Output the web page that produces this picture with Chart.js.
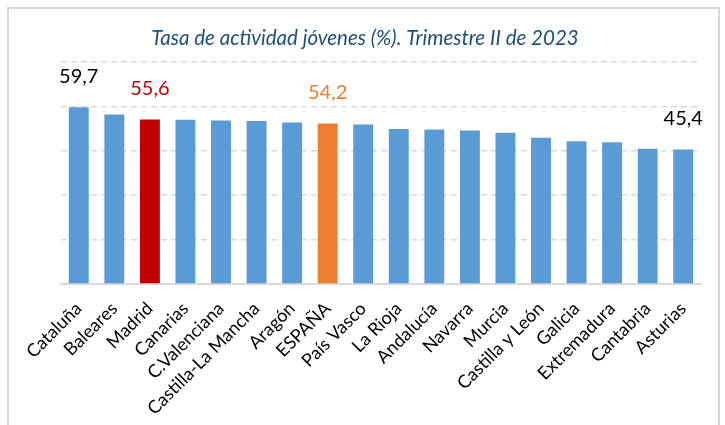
<!DOCTYPE html>
<html>
<head>
<meta charset="utf-8">
<script src="https://cdn.jsdelivr.net/npm/chart.js@4"></script>
<style>
  body { margin: 0; background: #fff; }
  #wrap { width: 725px; height: 425px; }
</style>
</head>
<body>
<div id="wrap"><canvas id="chart"></canvas></div>
<script>
const regions = ['Cataluña', 'Baleares', 'Madrid', 'Canarias', 'C.Valenciana', 'Castilla-La Mancha',
  'Aragón', 'ESPAÑA', 'País Vasco', 'La Rioja', 'Andalucía', 'Navarra', 'Murcia',
  'Castilla y León', 'Galicia', 'Extremadura', 'Cantabria', 'Asturias']
const rates = [59.7, 57.3, 55.6, 55.5, 55.2, 55.1, 54.6, 54.2, 53.9, 52.4, 52.2, 51.9, 51.1,
  49.4, 48.2, 47.9, 45.7, 45.4]
// which bars get a value on top, and in what colour
const shownLabels = { 0: '#000000', 2: '#c00000', 7: '#ed7d31', 17: '#000000' }
const chartTitle = 'Tasa de actividad jóvenes (%). Trimestre II de 2023'

const barColors = regions.map(r =>
  r === 'Madrid' ? '#c00000' : r === 'ESPAÑA' ? '#ed7d31' : '#5b9bd5'
)

// outer frame and the title, centred on the whole picture
const frame = {
  id: 'frame',
  beforeDraw: chart => {
    const ctx = chart.ctx
    ctx.save()
    ctx.strokeStyle = '#d9d9d9'
    ctx.lineWidth = 2
    ctx.strokeRect(8, 8, 711, 430)
    ctx.fillStyle = '#1f4e79'
    ctx.font = 'italic 20.5px Lato'
    ctx.textAlign = 'center'
    ctx.textBaseline = 'middle'
    ctx.fillText(chartTitle, 365, 38)
    ctx.restore()
  }
}

const valueLabels = {
  id: 'valueLabels',
  afterDatasetsDraw: chart => {
    const ctx = chart.ctx
    const bars = chart.getDatasetMeta(0).data
    ctx.save()
    ctx.font = '20px Lato'
    ctx.textAlign = 'center'
    ctx.textBaseline = 'middle'
    Object.keys(shownLabels).forEach(i => {
      const bar = bars[i]
      ctx.fillStyle = shownLabels[i]
      ctx.fillText(rates[i].toFixed(1).replace('.', ','), bar.x, bar.y - 31)
    })
    ctx.restore()
  }
}

const options = {
  responsive: true,
  maintainAspectRatio: false,
  animation: false,
  layout: { padding: { left: 61, right: 24, top: 62, bottom: 0 } },
  plugins: {
    legend: { display: false },
    tooltip: { enabled: false },
    title: { display: false }
  },
  scales: {
    x: {
      grid: { display: false },
      border: { color: '#d9d9d9', width: 2 },
      ticks: {
        color: '#000',
        font: { family: 'Lato', size: 18 },
        minRotation: 45,
        maxRotation: 45,
        autoSkip: false,
        padding: 6
      },
      afterFit: s => { s.height = 141 }
    },
    y: {
      min: 0,
      max: 75,
      ticks: { display: false, stepSize: 15 },
      grid: { color: '#d9d9d9', lineWidth: 1.5, drawTicks: false },
      border: { display: false, dash: [6, 4] },
      afterFit: s => { s.width = 0 }
    }
  }
}

new Chart(document.getElementById('chart'), {
  type: 'bar',
  data: {
    labels: regions,
    datasets: [{
      data: rates,
      backgroundColor: barColors,
      categoryPercentage: 1,
      barPercentage: 0.56
    }]
  },
  options: options,
  plugins: [frame, valueLabels]
})
</script>
</body>
</html>
